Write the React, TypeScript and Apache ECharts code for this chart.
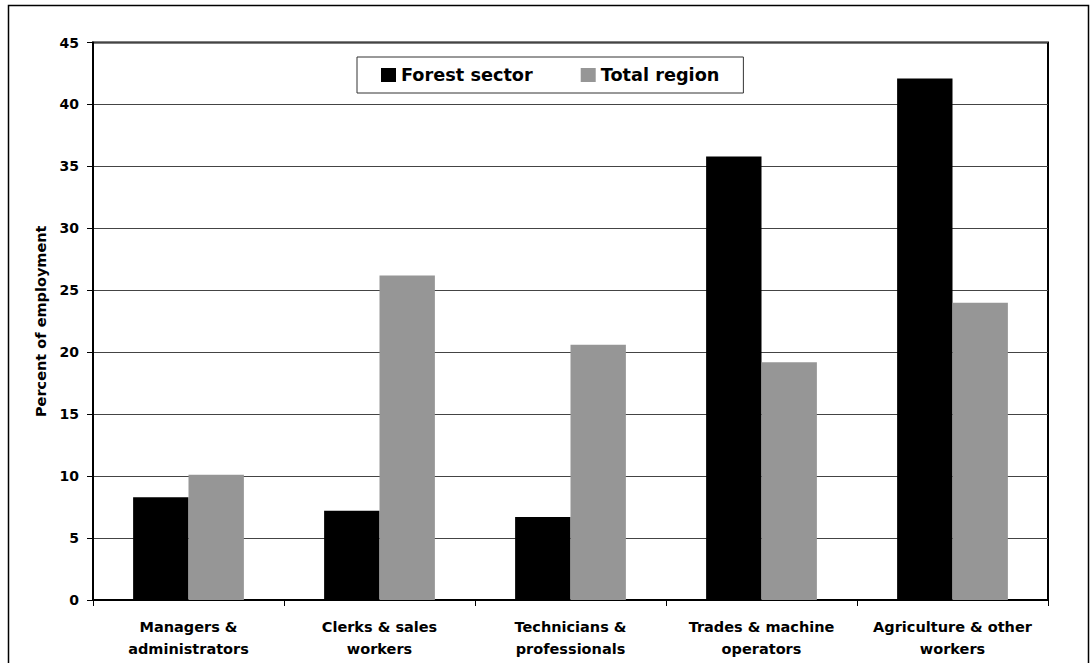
import React, { useEffect, useRef } from "react";
import * as echarts from "echarts";

const categories = [
  "Managers &\nadministrators",
  "Clerks & sales\nworkers",
  "Technicians &\nprofessionals",
  "Trades & machine\noperators",
  "Agriculture & other\nworkers",
];
const forestSector = [8.3, 7.2, 6.7, 35.8, 42.1];
const totalRegion = [10.1, 26.2, 20.6, 19.2, 24.0];
const yTicks = { min: 0, max: 45, interval: 5 };
const seriesNames = ["Forest sector", "Total region"];
const FONT = "DejaVu Sans";

export default function App() {
  const ref = useRef<HTMLDivElement>(null);
  useEffect(() => {
    if (!ref.current) return;
    const chart = echarts.init(ref.current, null, { renderer: "svg" });
    chart.setOption({
      animation: false,
      backgroundColor: "#ffffff",
      textStyle: { fontFamily: FONT },
      graphic: [
        {
          type: "rect",
          shape: { x: 8.5, y: 5.5, width: 1080, height: 700 },
          style: { fill: "none", stroke: "#000", lineWidth: 1.5 },
          silent: true,
          z: -1,
        },
      ],
      legend: {
        data: seriesNames,
        left: 357,
        top: 57,
        orient: "horizontal",
        padding: [9, 24, 9, 24],
        itemGap: 48,
        itemWidth: 15,
        itemHeight: 14,
        icon: "rect",
        borderColor: "#333",
        borderWidth: 1,
        backgroundColor: "#fff",
        textStyle: {
          fontFamily: FONT,
          fontWeight: "bold",
          fontSize: 17.7,
          color: "#000",
          lineHeight: 17,
        },
        z: 10,
      },
      grid: {
        left: 93,
        right: 42,
        top: 42.5,
        bottom: 63,
        show: true,
        borderColor: "#000",
        borderWidth: 2,
        containLabel: false,
      },
      xAxis: {
        type: "category",
        data: categories,
        boundaryGap: true,
        axisLine: { show: true, lineStyle: { color: "#000", width: 2 } },
        axisTick: {
          show: true,
          alignWithLabel: false,
          length: 6,
          lineStyle: { color: "#000", width: 1 },
        },
        axisLabel: {
          interval: 0,
          margin: 16,
          fontFamily: FONT,
          fontWeight: "bold",
          fontSize: 14.5,
          lineHeight: 22,
          color: "#000",
        },
      },
      yAxis: {
        type: "value",
        min: yTicks.min,
        max: yTicks.max,
        interval: yTicks.interval,
        name: "Percent of employment",
        nameLocation: "middle",
        nameGap: 43,
        nameTextStyle: {
          fontFamily: FONT,
          fontWeight: "bold",
          fontSize: 14.5,
          color: "#000",
        },
        axisLine: { show: true, lineStyle: { color: "#000", width: 2 } },
        axisTick: { show: true, length: 6, lineStyle: { color: "#000", width: 1 } },
        axisLabel: {
          margin: 14,
          fontFamily: FONT,
          fontWeight: "bold",
          fontSize: 14,
          color: "#000",
        },
        splitLine: { show: true, lineStyle: { color: "#444", width: 1 } },
      },
      series: [
        {
          name: seriesNames[0],
          type: "bar",
          data: forestSector,
          itemStyle: { color: "#000000" },
          barGap: "0%",
          barCategoryGap: "42%",
        },
        {
          name: seriesNames[1],
          type: "bar",
          data: totalRegion,
          itemStyle: { color: "#969696" },
          barGap: "0%",
          barCategoryGap: "42%",
        },
      ],
    });
    return () => chart.dispose();
  }, []);
  return (
    <div
      ref={ref}
      style={{ position: "fixed", left: 0, top: 0, width: 1090, height: 663 }}
    />
  );
}
